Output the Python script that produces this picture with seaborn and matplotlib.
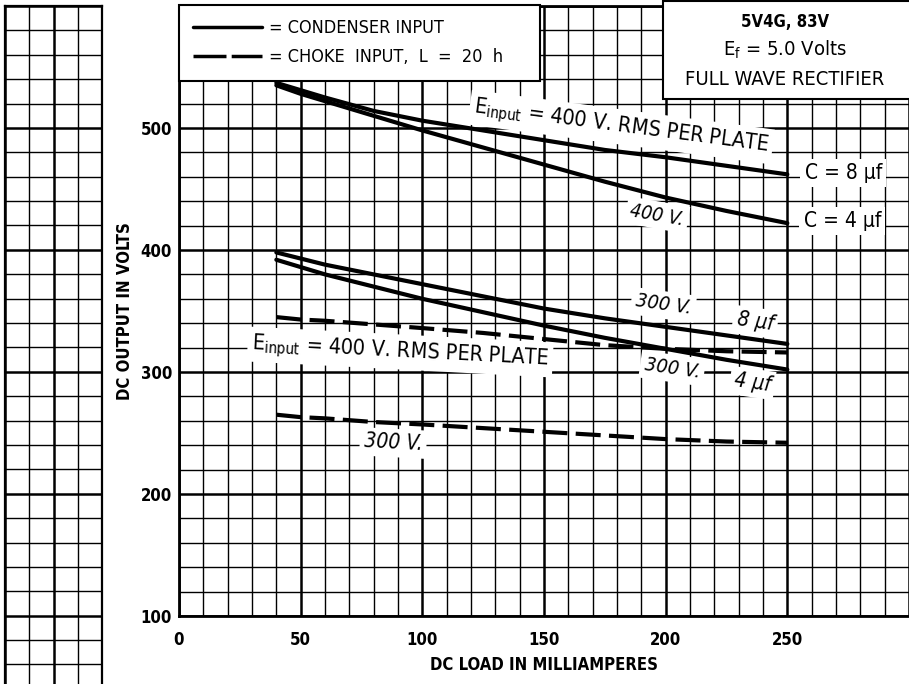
import matplotlib
matplotlib.use("Agg")
import matplotlib.pyplot as plt
from matplotlib.lines import Line2D
from matplotlib.patches import Rectangle
from matplotlib.ticker import MultipleLocator
import seaborn as sns
import pandas as pd

# DC load (mA) where the curves were read
load_ma = [40, 50, 60, 80, 100, 125, 150, 175, 200, 225, 250]

# DC output volts
cond_400_8uf = [537, 531, 525, 514, 506, 498, 490, 482, 476, 469, 462]
cond_400_4uf = [535, 528, 522, 510, 498, 484, 470, 456, 443, 432, 422]
cond_300_8uf = [398, 393, 388, 380, 372, 362, 352, 344, 337, 330, 323]
cond_300_4uf = [392, 386, 380, 370, 360, 349, 338, 328, 319, 310, 302]
choke_400 = [345, 343, 342, 339, 336, 332, 327, 322, 319, 317, 316]
choke_300 = [265, 263, 262, 259, 257, 254, 251, 248, 245, 243, 242]

curves = {
    "400V 8uf": ("condenser", cond_400_8uf),
    "400V 4uf": ("condenser", cond_400_4uf),
    "300V 8uf": ("condenser", cond_300_8uf),
    "300V 4uf": ("condenser", cond_300_4uf),
    "400V choke": ("choke", choke_400),
    "300V choke": ("choke", choke_300),
}

x_ticks = [0, 50, 100, 150, 200, 250, 300]
x_ticklabels = ["0", "50", "100", "150", "200", "250", ""]
y_ticks = [100, 200, 300, 400, 500, 600]
y_ticklabels = ["100", "200", "300", "400", "500", ""]

rows = []
for name, (kind, vals) in curves.items():
    for x, v in zip(load_ma, vals):
        rows.append({"curve": name, "input": kind, "load": x, "volts": v})
df = pd.DataFrame(rows)

sns.set_style("white")
plt.rcParams["font.family"] = ["DejaVu Sans"]
plt.rcParams["font.stretch"] = "condensed"
plt.rcParams["text.color"] = "black"
plt.rcParams["axes.labelcolor"] = "black"
plt.rcParams["xtick.color"] = "black"
plt.rcParams["ytick.color"] = "black"

fig = plt.figure(figsize=(9.09, 6.84), dpi=100)

# strip of graph paper at the far left
ax2 = fig.add_axes([5 / 909, 0, 97 / 909, 678 / 684])
ax2.set_xlim(0, 4)
ax2.set_ylim(44, 600)
ax2.xaxis.set_major_locator(MultipleLocator(2))
ax2.xaxis.set_minor_locator(MultipleLocator(1))
ax2.yaxis.set_major_locator(MultipleLocator(100))
ax2.yaxis.set_minor_locator(MultipleLocator(20))
ax2.grid(which="major", color="black", lw=1.8)
ax2.grid(which="minor", color="black", lw=1.0)
ax2.tick_params(which="both", length=0, labelleft=False, labelbottom=False)
for s in ["left", "right", "top"]:
    ax2.spines[s].set_color("black")
    ax2.spines[s].set_linewidth(1.6)
ax2.spines["bottom"].set_visible(False)

ax = fig.add_axes([179 / 909, 68 / 684, 730 / 909, 610 / 684])
sns.lineplot(data=df, x="load", y="volts", units="curve", style="input",
             estimator=None, color="black", lw=3.0, legend=False,
             dashes={"condenser": "", "choke": (6, 2)}, ax=ax, zorder=3)

ax.set_xlim(0, 300)
ax.set_ylim(100, 600)
ax.set_xticks(x_ticks)
ax.set_xticklabels(x_ticklabels, fontweight="bold", fontsize=12)
ax.set_yticks(y_ticks)
ax.set_yticklabels(y_ticklabels, fontweight="bold", fontsize=12)
ax.xaxis.set_minor_locator(MultipleLocator(10))
ax.yaxis.set_minor_locator(MultipleLocator(20))
ax.set_axisbelow(True)
ax.grid(which="major", color="black", lw=1.8)
ax.grid(which="minor", color="black", lw=1.0)
ax.tick_params(which="both", length=0)
ax.tick_params(axis="x", pad=11)
ax.tick_params(axis="y", pad=5)
ax.set_xlabel("DC LOAD IN MILLIAMPERES", fontweight="bold", fontsize=12, labelpad=5)
ax.set_ylabel("DC OUTPUT IN VOLTS", fontweight="bold", fontsize=12, labelpad=5)
for s in ["left", "bottom", "top"]:
    ax.spines[s].set_color("black")
    ax.spines[s].set_linewidth(2)
ax.spines["right"].set_visible(False)

# legend box
handles = [Line2D([], [], color="black", lw=2.5),
           Line2D([], [], color="black", lw=2.5, dashes=(9.5, 1.5))]
leg = ax.legend(handles, ["= CONDENSER INPUT", "= CHOKE  INPUT,  L  =  20  h"],
                loc="upper left", bbox_to_anchor=(0, 0.8803, 0.4945, 0.1217),
                mode="expand", fontsize=13,
                handlelength=3.8, handletextpad=0.4, labelspacing=0.6,
                borderpad=0.8, fancybox=False, framealpha=1, borderaxespad=0)
leg.get_frame().set_edgecolor("black")
leg.get_frame().set_linewidth(1.5)
leg.set_zorder(6)

# tube box, top right
ax.add_patch(Rectangle((0.663, 0.8475), 0.34, 0.16, transform=ax.transAxes,
                       fc="white", ec="black", lw=1.5, clip_on=False, zorder=5))
ax.text(0.83, 0.974, "5V4G, 83V", transform=ax.transAxes, ha="center", va="center",
        fontsize=12, fontweight="bold", zorder=6)
ax.text(0.83, 0.928, r"E$_\mathregular{f}$ = 5.0 Volts", transform=ax.transAxes,
        ha="center", va="center", fontsize=14.5, zorder=6)
ax.text(0.83, 0.880, "FULL WAVE RECTIFIER", transform=ax.transAxes,
        ha="center", va="center", fontsize=14.5, zorder=6)

box = dict(fc="white", ec="none", pad=3)
lab = dict(ha="center", va="center", rotation_mode="anchor", zorder=2, bbox=box)

ax.text(181.7, 500.8, r"E$_\mathregular{input}$ = 400 V. RMS PER PLATE",
        fontsize=15.5, rotation=-7.5, **lab)
ax.text(196.5, 428.7, "400 V.", fontsize=14, style="italic", rotation=-10, **lab)
ax.text(273, 463, "C = 8 µf", fontsize=15, **lab)
ax.text(272.6, 423.8, "C = 4 µf", fontsize=15, **lab)
ax.text(199, 355, "300 V.", fontsize=14.5, style="italic", rotation=-8, **lab)
ax.text(236.8, 341, "8 µf", fontsize=15, style="italic", rotation=-8, **lab)
ax.text(202.7, 303, "300 V.", fontsize=14.5, style="italic", rotation=-8, **lab)
ax.text(235.6, 291, "4 µf", fontsize=15, style="italic", rotation=-8, **lab)
ax.text(90.9, 316.4, r"E$_\mathregular{input}$ = 400 V. RMS PER PLATE",
        fontsize=15.5, rotation=-3, **lab)
ax.text(88, 241.8, "300 V.", fontsize=15, style="italic", rotation=-3, **lab)

fig.savefig("out.png", dpi=100, facecolor="white")
